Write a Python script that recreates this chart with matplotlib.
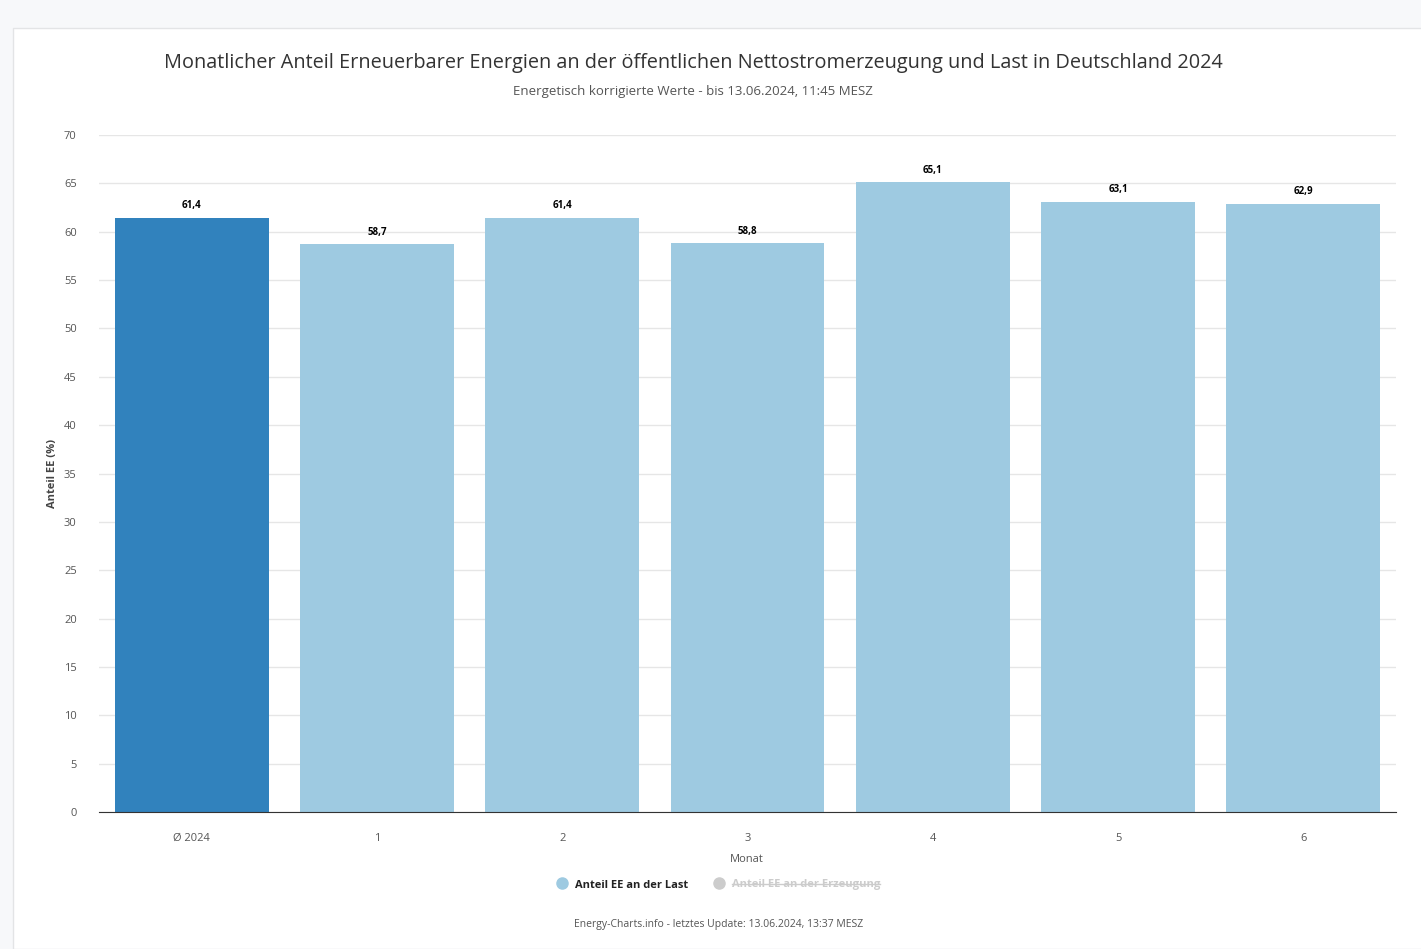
import numpy as np
import matplotlib.pyplot as plt
from matplotlib.patches import Rectangle
from matplotlib.lines import Line2D

# data
categories = ['Ø 2024', '1', '2', '3', '4', '5', '6']
values = [61.4, 58.7, 61.4, 58.8, 65.1, 63.1, 62.9]
labels = ['61,4', '58,7', '61,4', '58,8', '65,1', '63,1', '62,9']
bar_colors = ['#3182bd'] + ['#9ecae1'] * 6
yticks = list(range(0, 75, 5))

W, H = 1421, 949
plt.rcParams['font.family'] = ['Open Sans', 'DejaVu Sans']
fig = plt.figure(figsize=(W / 100, H / 100), dpi=100)
fig.patch.set_facecolor('#f7f8fa')

# white card
card = Rectangle((13 / W, 0), 1, 1 - 28 / H, transform=fig.transFigure,
                 facecolor='white', edgecolor='#e3e4e6', lw=1, zorder=-10)
fig.patches.append(card)

ax = fig.add_axes([99 / W, 1 - 812 / H, (1396 - 99) / W, (812 - 135) / H])
ax.set_facecolor('none')
ax.set_zorder(5)

x = np.arange(len(categories))
bars = ax.bar(x, values, width=0.83, color=bar_colors, zorder=2)
for xi, v, lab in zip(x, values, labels):
    ax.text(xi, v + 0.7, lab, ha='center', va='bottom', fontsize=7,
            fontweight='bold', color='black')

ax.set_xlim(-0.5, len(categories) - 0.5)
ax.set_ylim(0, 70)
ax.set_yticks(yticks)
ax.set_xticks(x)
ax.set_xticklabels(categories)
ax.grid(axis='y', color='#e6e6e6', lw=1, zorder=0)
for s in ['top', 'right', 'left']:
    ax.spines[s].set_visible(False)
ax.spines['bottom'].set_color('#333333')
ax.tick_params(axis='both', length=0, labelsize=8, colors='#555555')
ax.tick_params(axis='y', pad=16)
ax.tick_params(axis='x', pad=15)

fig.text(747 / W, 1 - 859 / H, 'Monat', ha='center', va='center',
         fontsize=8, color='#555555')
fig.text(53 / W, 1 - 473 / H, 'Anteil EE (%)', ha='center', va='center',
         rotation=90, fontsize=8, fontweight='bold', color='#444444')

fig.text(693 / W, 1 - 63 / H, 'Monatlicher Anteil Erneuerbarer Energien an der öffentlichen '
         'Nettostromerzeugung und Last in Deutschland 2024',
         ha='center', va='center', fontsize=14.3, color='#333333')
fig.text(693 / W, 1 - 92 / H, 'Energetisch korrigierte Werte - bis 13.06.2024, 11:45 MESZ',
         ha='center', va='center', fontsize=9.5, color='#555555')

# legend
fig.add_artist(Line2D([562 / W], [1 - 883 / H], marker='o', markersize=8,
                      color='#9ecae1', transform=fig.transFigure))
fig.text(575 / W, 1 - 885 / H, 'Anteil EE an der Last', ha='left', va='center',
         fontsize=8, fontweight='bold', color='#222222')
fig.add_artist(Line2D([719 / W], [1 - 883 / H], marker='o', markersize=8,
                      color='#cccccc', transform=fig.transFigure))
t2 = fig.text(732 / W, 1 - 885 / H, 'Anteil EE an der Erzeugung', ha='left', va='center',
              fontsize=8, fontweight='bold', color='#cccccc')
fig.add_artist(Line2D([t2.get_window_extent(renderer=fig.canvas.get_renderer()).x0 / W,
                       t2.get_window_extent(renderer=fig.canvas.get_renderer()).x1 / W],
                      [1 - 884 / H, 1 - 884 / H], color='#cccccc', lw=1,
                      transform=fig.transFigure))

fig.text(719 / W, 1 - 925 / H, 'Energy-Charts.info - letztes Update: 13.06.2024, 13:37 MESZ',
         ha='center', va='center', fontsize=7.5, color='#555555')

fig.savefig('out.png', dpi=100)
